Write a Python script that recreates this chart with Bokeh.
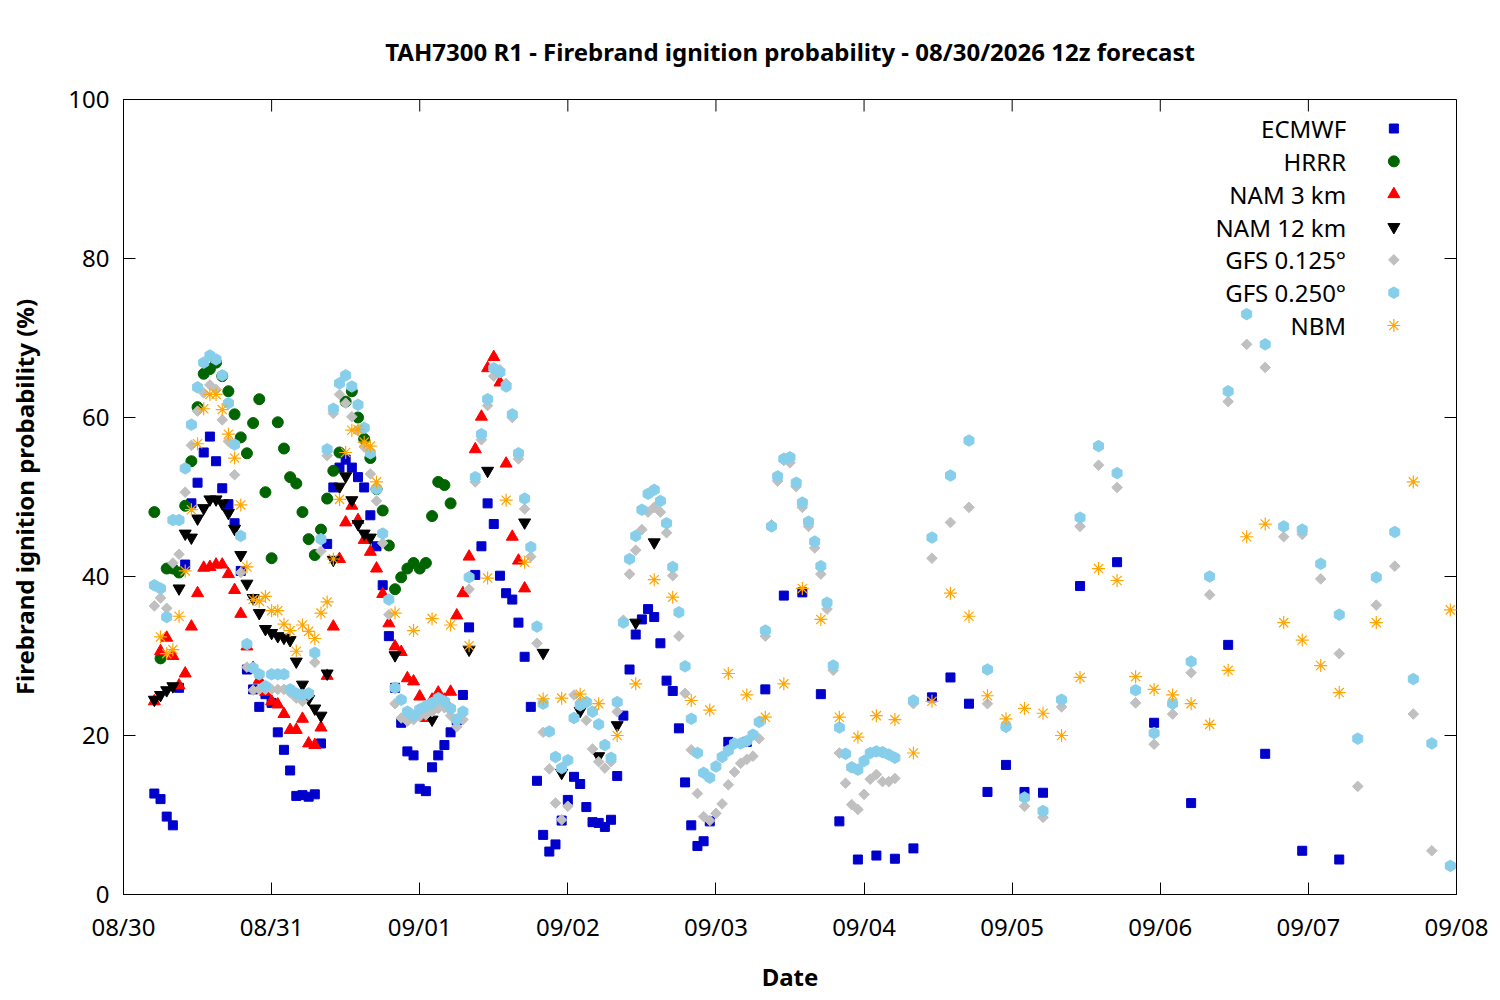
import math
import pandas as pd
from bokeh.plotting import figure
from bokeh.models import Range1d, FixedTicker, DatetimeTickFormatter
from bokeh.core.properties import value
from bokeh.embed import file_html
from bokeh.resources import INLINE

FONT = "Noto Sans"

# 12z run, times shown in local time (UTC-7)
run_start = pd.Timestamp("2026-08-30 05:00")

# forecast hours of each model's output
ecmwf_hours = list(range(0, 91)) + list(range(93, 145, 3)) + list(range(150, 193, 6))
hrrr_hours = list(range(0, 49))
nam3_hours = list(range(0, 61))
nam12_hours = list(range(0, 36)) + [39, 45, 51, 54, 60, 63, 66, 69, 72, 75, 78, 81]
gfs_hours = list(range(0, 121)) + list(range(123, 211, 3))
nbm_hours = list(range(1, 37)) + list(range(39, 193, 3)) + [198, 204, 210]

ecmwf = [
    12.7, 12.0, 9.8, 8.7, 26.0, 41.5, 49.2, 51.8, 55.6, 57.6,
    54.5, 51.1, 49.1, 46.7, 40.7, 28.3, 25.8, 23.6, 25.2, 24.1,
    20.4, 18.2, 15.6, 12.4, 12.5, 12.3, 12.6, 19.0, 44.1, 51.2,
    53.7, 54.7, 53.7, 52.5, 51.2, 47.7, 43.8, 38.9, 32.5, 26.0,
    21.6, 18.0, 17.5, 13.3, 13.0, 16.0, 17.5, 18.8, 20.4, 21.9,
    25.1, 33.6, 40.2, 43.8, 49.2, 46.6, 40.1, 37.9, 37.1, 34.2,
    29.9, 23.6, 14.3, 7.5, 5.4, 6.3, 9.3, 11.9, 14.8, 13.9,
    11.0, 9.1, 9.0, 8.5, 9.4, 14.9, 22.5, 28.3, 32.7, 34.6,
    35.9, 34.9, 31.6, 26.9, 25.6, 20.9, 14.1, 8.7, 6.1, 6.7,
    9.2,
    19.2, 19.2, 25.8, 37.6, 38.0, 25.2, 9.2, 4.4, 4.9, 4.5,
    5.8, 24.8, 27.3, 24.0, 12.9, 16.3, 12.9, 12.8,
    38.8, 41.8, 21.6, 11.5, 31.4, 17.7, 5.5, 4.4,
]

hrrr = [
    48.1, 29.7, 41.0, 41.0, 40.5, 48.9, 54.5, 61.3, 65.5, 66.1,
    66.9, 65.2, 63.3, 60.4, 57.5, 55.5, 59.3, 62.3, 50.6, 42.3,
    59.4, 56.1, 52.5, 51.7, 48.1, 44.7, 42.7, 45.9, 49.8, 53.3,
    55.6, 62.0, 63.3, 60.0, 57.3, 54.9, 51.0, 48.3, 43.9, 38.4,
    39.9, 41.0, 41.7, 41.0, 41.7, 47.6, 51.9, 51.5, 49.2,
]

nam3 = [
    24.3, 30.6, 32.3, 30.0, 26.3, 27.8, 33.7, 37.9, 41.1, 41.2,
    41.5, 41.5, 40.3, 38.3, 35.3, 31.2, 28.5, 27.0, 25.5, 24.3,
    23.9, 22.7, 20.7, 20.7, 22.1, 19.0, 18.8, 21.0, 27.5, 33.7,
    42.2, 46.8, 48.9, 47.1, 44.6, 43.1, 41.0, 37.8, 34.1, 31.2,
    30.5, 27.2, 26.8, 24.9, 22.2, 24.5, 25.4, 24.5, 25.5, 35.1,
    37.9, 42.5, 56.0, 60.1, 66.2, 67.6, 64.4, 54.2, 45.0, 42.0,
    38.5,
]

nam12 = [
    24.5, 25.1, 25.7, 26.2, 38.5, 45.4, 44.9, 47.3, 48.6, 49.7,
    49.7, 49.2, 48.0, 46.0, 42.7, 39.1, 37.3, 35.4, 33.4, 32.9,
    32.5, 32.3, 32.0, 29.3, 26.4, 24.6, 23.4, 22.5, 27.8, 42.1,
    51.3, 52.6, 49.6, 46.6, 45.4, 44.9,
    30.1, 22.0, 30.8, 53.3, 46.8, 30.4, 15.3, 23.1, 17.4, 21.3,
    34.2, 44.3,
]

gfs125 = [
    36.3, 37.3, 36.0, 41.7, 42.8, 50.6, 56.5, 60.8, 63.1, 64.1,
    63.5, 59.7, 57.0, 52.8, 40.5, 28.6, 25.7, 25.8, 25.8, 25.8,
    25.8, 25.8, 25.4, 24.7, 24.3, 25.1, 29.2, 43.2, 55.2, 60.5,
    62.9, 61.8, 60.1, 58.4, 56.3, 52.9, 49.5, 44.2, 35.2, 24.0,
    22.2, 21.8, 22.0, 22.4, 22.6, 23.0, 23.4, 23.5, 22.5, 21.1,
    22.0, 38.4, 51.9, 57.2, 61.5, 65.2, 66.0, 64.3, 60.0, 54.8,
    48.5, 42.5, 31.6, 20.4, 15.8, 11.5, 9.4, 11.1, 25.1, 24.2,
    21.9, 18.3, 16.7, 15.9, 16.7, 23.0, 34.5, 40.3, 43.3, 45.9,
    48.1, 48.7, 48.1, 45.5, 40.1, 32.5, 25.3, 18.2, 12.7, 9.8,
    9.3, 10.2, 11.4, 13.8, 15.4, 16.5, 17.0, 17.4, 19.6, 32.5,
    46.5, 52.0, 54.6, 54.3, 51.3, 48.7, 46.3, 43.6, 40.3, 35.9,
    28.2, 17.8, 14.0, 11.3, 10.7, 12.6, 14.5, 15.1, 14.2, 14.2,
    14.6,
    24.0, 42.3, 46.8, 48.7, 24.0, 21.0, 11.1, 9.7, 23.6, 46.3,
    54.0, 51.2, 24.1, 18.9, 22.7, 27.9, 37.7, 62.0, 69.2, 66.3,
    45.0, 45.3, 39.7, 30.3, 13.6, 36.4, 41.3, 22.7, 5.5, 3.6,
]

gfs250 = [
    38.9, 38.5, 34.9, 47.1, 47.1, 53.6, 59.1, 63.8, 66.9, 67.8,
    67.3, 65.3, 61.8, 56.6, 45.1, 31.5, 28.5, 27.7, 26.2, 27.7,
    27.7, 27.7, 25.8, 25.3, 25.1, 25.3, 30.4, 44.7, 56.0, 61.1,
    64.3, 65.3, 63.9, 61.6, 58.7, 55.5, 51.0, 45.4, 37.1, 26.0,
    24.5, 23.0, 22.5, 23.3, 23.7, 24.1, 24.7, 24.3, 23.4, 22.0,
    23.0, 39.9, 52.5, 57.9, 62.3, 66.2, 65.7, 63.9, 60.4, 55.5,
    49.8, 43.7, 33.7, 24.0, 20.5, 17.3, 15.9, 16.9, 22.2, 23.8,
    24.2, 23.0, 21.4, 18.8, 17.2, 24.2, 34.2, 42.2, 45.1, 48.4,
    50.4, 50.9, 49.5, 46.7, 41.2, 35.5, 28.7, 22.1, 17.8, 15.3,
    14.7, 16.1, 17.3, 18.1, 19.0, 19.0, 19.3, 20.1, 21.7, 33.2,
    46.3, 52.6, 54.8, 55.0, 51.8, 49.3, 46.9, 44.4, 41.3, 36.7,
    28.8, 21.0, 17.7, 16.0, 15.7, 16.8, 17.8, 18.0, 17.9, 17.6,
    17.2,
    24.4, 44.9, 52.7, 57.1, 28.3, 21.1, 12.2, 10.5, 24.5, 47.4,
    56.4, 53.0, 25.7, 20.3, 24.0, 29.3, 40.0, 63.3, 73.0, 69.2,
    46.3, 45.9, 41.6, 35.2, 19.6, 39.9, 45.6, 27.1, 19.0, 3.6,
]

nbm = [
    32.4, 30.3, 30.8, 35.0, 40.7, 48.4, 56.7, 61.1, 62.9, 62.9,
    61.0, 57.9, 54.9, 49.0, 41.2, 37.1, 36.9, 37.5, 35.7, 35.7,
    34.0, 33.2, 30.6, 33.9, 33.1, 32.2, 35.4, 36.8, 42.2, 49.7,
    55.6, 58.4, 58.5, 56.9, 56.4, 51.9,
    35.4, 33.2, 34.7, 33.9, 31.3, 39.8, 49.6, 41.8, 24.6, 24.7,
    25.2, 24.0, 20.0, 26.5, 39.6, 37.4, 24.4, 23.2, 27.8, 25.1,
    22.3, 26.5, 38.5, 34.6, 22.3, 19.8, 22.5, 22.0, 17.8, 24.3,
    37.9, 35.0, 25.0, 22.1, 23.4, 22.8, 20.0, 27.3, 41.0, 39.5,
    27.4, 25.8, 25.1, 24.0, 21.4, 28.2, 45.0, 46.6, 34.2, 32.0,
    28.8, 25.4,
    34.2, 51.9, 35.8,
]

series_names = ["ECMWF", "HRRR", "NAM 3 km", "NAM 12 km", "GFS 0.125°", "GFS 0.250°", "NBM"]
y_ticks = [0, 20, 40, 60, 80, 100]


def to_times(hours):
    return run_start + pd.to_timedelta(hours, unit="h")


days = pd.date_range("2026-08-30", "2026-09-08", freq="D")
day_ticks = [d.timestamp() * 1000 for d in days]
fmt = "%m/%d"
x_fmt = DatetimeTickFormatter(days=fmt, months=fmt, hours=fmt, hourmin=fmt,
                              minutes=fmt, years=fmt)

FW, FH = 1333, 795
TICK = 12

p = figure(
    title="TAH7300 R1 - Firebrand ignition probability - 08/30/2026 12z forecast",
    x_axis_type="datetime",
    x_range=Range1d(days[0], days[-1]),
    y_range=Range1d(0, 100),
    frame_width=FW, frame_height=FH,
    min_border_left=123, min_border_right=40,
    min_border_top=99, min_border_bottom=102,
    output_backend="svg", toolbar_location=None,
)
# 0..1 ranges over the frame, for the key and the mirrored ticks
p.extra_x_ranges = {"frac": Range1d(0, 1)}
p.extra_y_ranges = {"frac": Range1d(0, 1)}

p.title.align = "center"
p.title.text_font = FONT
p.title.text_font_size = "24px"
p.title.text_font_style = "bold"
p.title.text_color = "black"
p.title.standoff = 64

p.xgrid.visible = False
p.ygrid.visible = False
p.outline_line_color = "black"
p.outline_line_alpha = 1

p.xaxis.ticker = FixedTicker(ticks=day_ticks)
p.xaxis.formatter = x_fmt
p.yaxis.ticker = FixedTicker(ticks=y_ticks)
p.xaxis.axis_label = "Date"
p.yaxis.axis_label = "Firebrand ignition probability (%)"

for ax in p.xaxis + p.yaxis:
    ax.major_tick_in = TICK
    ax.major_tick_out = 0
    ax.minor_tick_line_color = None
    ax.axis_line_color = "black"
    ax.major_tick_line_color = "black"
    ax.major_label_text_font = FONT
    ax.major_label_text_font_size = "24px"
    ax.major_label_text_color = "black"
    ax.axis_label_text_font = FONT
    ax.axis_label_text_font_size = "24px"
    ax.axis_label_text_font_style = "bold"
    ax.axis_label_text_color = "black"

p.xaxis.major_label_standoff = 15
p.xaxis.axis_label_standoff = 14
p.yaxis.major_label_standoff = 14
p.yaxis.axis_label_standoff = 24

# mirrored ticks on the top and right borders
span = days[-1] - days[0]
top_x = [(d - days[0]) / span for d in days]
right_y = [v / 100 for v in y_ticks]
p.segment(x0=top_x, x1=top_x, y0=[1 - TICK / FH] * len(top_x), y1=[1] * len(top_x),
          x_range_name="frac", y_range_name="frac", line_color="black", line_width=1)
p.segment(x0=[1 - TICK / FW] * len(right_y), x1=[1] * len(right_y), y0=right_y, y1=right_y,
          x_range_name="frac", y_range_name="frac", line_color="black", line_width=1)

styles = [
    dict(marker="square", size=9, color="#0000cc"),
    dict(marker="circle", size=11, color="#006400"),
    dict(marker="triangle", size=12, color="#ff0000"),
    dict(marker="inverted_triangle", size=12, color="#000000"),
    dict(marker="square", size=7.5, angle=math.pi / 4, color="#c0c0c0"),
    dict(marker="hex", size=11.5, angle=math.pi / 2, color="#87ceeb"),
    dict(marker="asterisk", size=13, line_color="#ffa500", line_width=1.2, fill_color=None),
]
data = [
    (ecmwf_hours, ecmwf), (hrrr_hours, hrrr), (nam3_hours, nam3),
    (nam12_hours, nam12), (gfs_hours, gfs125), (gfs_hours, gfs250),
    (nbm_hours, nbm),
]

for (hours, vals), st in zip(data, styles):
    p.scatter(x=to_times(hours), y=vals, **st)

# key in the top right corner, label to the left of the symbol
row_y = [0.9635 - 0.0413 * i for i in range(len(series_names))]
p.text(x=[0.9172] * len(series_names), y=row_y, text=series_names,
       x_range_name="frac", y_range_name="frac",
       text_align="right", text_baseline="middle",
       text_font=value(FONT), text_font_size="24px", text_color="black")
for yy, st in zip(row_y, styles):
    p.scatter(x=[0.9530], y=[yy], x_range_name="frac", y_range_name="frac", **st)

open("out.html", "w").write(file_html(p, INLINE))
